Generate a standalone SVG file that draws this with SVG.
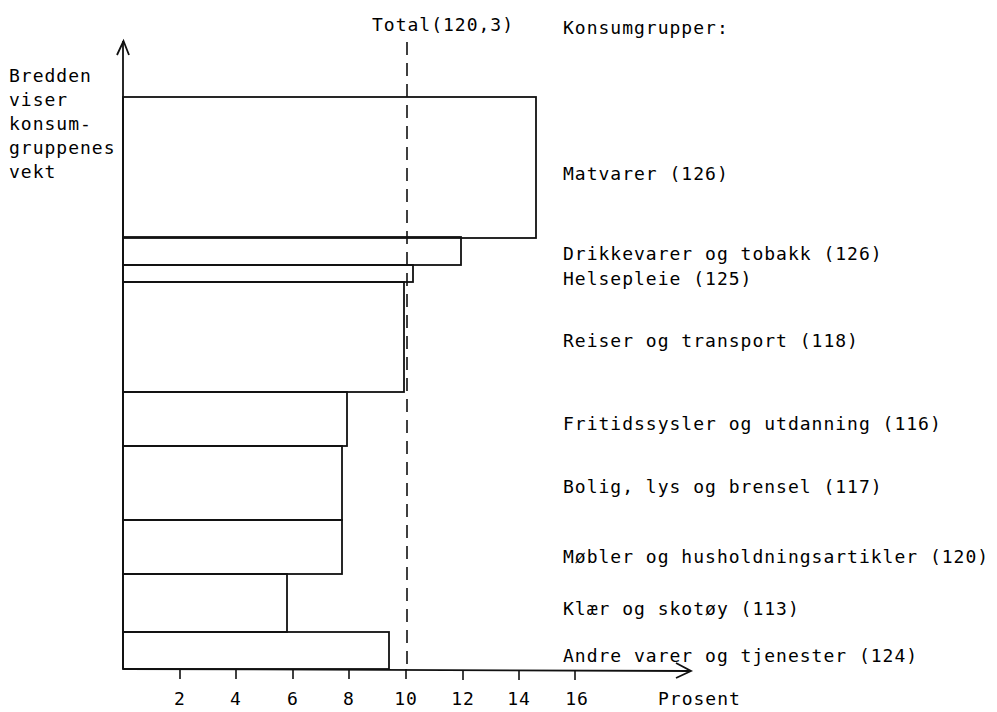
<svg xmlns="http://www.w3.org/2000/svg" width="997" height="712" viewBox="0 0 997 712">
<style>
text{font-family:"DejaVu Sans Mono","Liberation Mono",monospace;font-size:18px;fill:#000;letter-spacing:1px}
.bar{fill:none;stroke:#111;stroke-width:1.8}
.ax{fill:none;stroke:#111;stroke-width:1.8}
.tk{stroke:#111;stroke-width:1.6}
.tl{text-anchor:middle}
</style>
<rect width="997" height="712" fill="#fff"/>
<g id="axes">
<line class="ax" x1="123" y1="669" x2="123" y2="41"/>
<polyline class="ax" points="117,55 123.5,41 129,55"/>
<line class="ax" x1="123" y1="669" x2="690" y2="671"/>
<polyline class="ax" points="676,663 691,671 676,678"/>
<line id="total-line" x1="407" y1="42" x2="407" y2="669" stroke="#111" stroke-width="1.6" stroke-dasharray="13,8"/>
</g>
<g id="ticks">
<line class="tk" x1="180" y1="669" x2="180" y2="679"/>
<line class="tk" x1="236" y1="669" x2="236" y2="679"/>
<line class="tk" x1="293" y1="669" x2="293" y2="679"/>
<line class="tk" x1="349" y1="669" x2="349" y2="679"/>
<line class="tk" x1="406" y1="669" x2="406" y2="679"/>
<line class="tk" x1="463" y1="670" x2="463" y2="680"/>
<line class="tk" x1="519" y1="670" x2="519" y2="680"/>
<line class="tk" x1="575" y1="670" x2="575" y2="680"/>
<text class="tl" x="180" y="705">2</text>
<text class="tl" x="236" y="705">4</text>
<text class="tl" x="293" y="705">6</text>
<text class="tl" x="349" y="705">8</text>
<text class="tl" x="406" y="705">10</text>
<text class="tl" x="463" y="705">12</text>
<text class="tl" x="519" y="705">14</text>
<text class="tl" x="577" y="705">16</text>
<text x="658" y="705">Prosent</text>
</g>
<g id="ylabel">
<text x="9" y="82">Bredden</text>
<text x="9" y="106">viser</text>
<text x="9" y="130">konsum-</text>
<text x="9" y="154">gruppenes</text>
<text x="9" y="178">vekt</text>
</g>
<g id="total-label"><text x="372" y="31">Total(120,3)</text></g>
<g id="legend-title"><text x="563" y="34">Konsumgrupper:</text></g>
<g id="matvarer"><rect class="bar" x="123" y="97" width="413" height="141"/><text x="563" y="180">Matvarer (126)</text></g>
<g id="drikkevarer"><rect class="bar" x="123" y="237" width="338" height="28"/><text x="563" y="260">Drikkevarer og tobakk (126)</text></g>
<g id="helsepleie"><rect class="bar" x="123" y="265" width="290" height="17"/><text x="563" y="285">Helsepleie (125)</text></g>
<g id="reiser"><rect class="bar" x="123" y="282" width="281" height="110"/><text x="563" y="347">Reiser og transport (118)</text></g>
<g id="fritid"><rect class="bar" x="123" y="392" width="224" height="54"/><text x="563" y="430">Fritidssysler og utdanning (116)</text></g>
<g id="bolig"><rect class="bar" x="123" y="446" width="219" height="74"/><text x="563" y="493">Bolig, lys og brensel (117)</text></g>
<g id="mobler"><rect class="bar" x="123" y="520" width="219" height="54"/><text x="563" y="563">Møbler og husholdningsartikler (120)</text></g>
<g id="klaer"><rect class="bar" x="123" y="574" width="164" height="58"/><text x="563" y="615">Klær og skotøy (113)</text></g>
<g id="andre"><rect class="bar" x="123" y="632" width="266" height="37"/><text x="563" y="662">Andre varer og tjenester (124)</text></g>
</svg>
